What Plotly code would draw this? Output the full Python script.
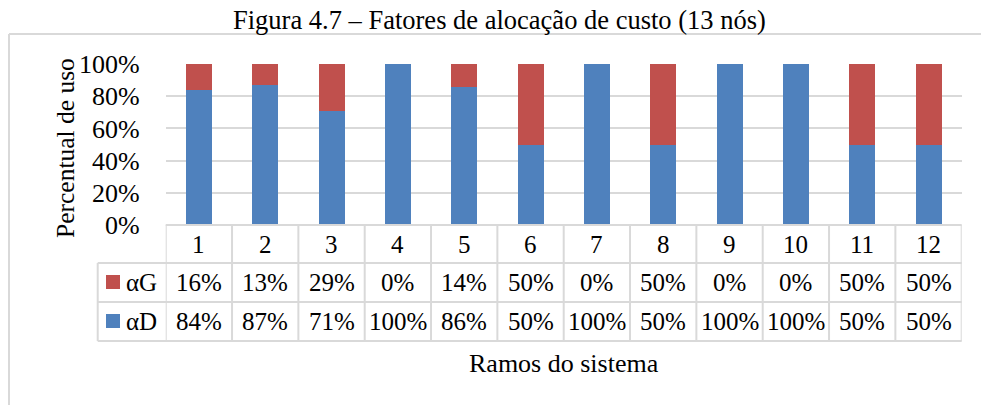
import plotly.graph_objects as go

# ---- data ----
categories = ["1", "2", "3", "4", "5", "6", "7", "8", "9", "10", "11", "12"]
alpha_D = [84, 87, 71, 100, 86, 50, 100, 50, 100, 100, 50, 50]
alpha_G = [16, 13, 29, 0, 14, 50, 0, 50, 0, 0, 50, 50]
series_names = ["αD", "αG"]
y_ticks = [0, 20, 40, 60, 80, 100]
y_tick_labels = ["0%", "20%", "40%", "60%", "80%", "100%"]
title_text = "Figura 4.7 – Fatores de alocação de custo (13 nós)"
y_title = "Percentual de uso"
x_title = "Ramos do sistema"

W, H = 981, 405
BLUE = "#4F81BD"
RED = "#C0504D"
GRID = "#D9D9D9"
FONT = "Liberation Serif"


def px(v):
    return v / W


def py(v):
    return 1 - v / H


plot_left, plot_right = 165.7, 961.7
plot_top, plot_bottom = 64, 225
row_lines = [225, 263, 302, 341]
legend_left = 97.7

fig = go.Figure()
fig.add_trace(go.Bar(x=categories, y=alpha_D, name=series_names[0],
                     marker=dict(color=BLUE, line=dict(width=0))))
fig.add_trace(go.Bar(x=categories, y=alpha_G, name=series_names[1],
                     marker=dict(color=RED, line=dict(width=0))))

shapes = []
# outer frame (top and left)
shapes.append(dict(type="line", xref="paper", yref="paper", x0=px(9), x1=1, y0=py(34), y1=py(34),
                   line=dict(color=GRID, width=2)))
shapes.append(dict(type="line", xref="paper", yref="paper", x0=px(9), x1=px(9), y0=py(34), y1=0,
                   line=dict(color=GRID, width=2)))
# table horizontal lines
for i, yy in enumerate(row_lines):
    x0 = plot_left if i == 0 else legend_left
    shapes.append(dict(type="line", xref="paper", yref="paper", x0=px(x0), x1=px(plot_right),
                       y0=py(yy), y1=py(yy), line=dict(color=GRID, width=2)))
# table vertical lines (category boundaries)
n = len(categories)
for k in range(n + 1):
    shapes.append(dict(type="line", xref="x", yref="paper", x0=k - 0.5, x1=k - 0.5,
                       y0=py(row_lines[0]), y1=py(row_lines[-1]), line=dict(color=GRID, width=2)))
shapes.append(dict(type="line", xref="paper", yref="paper", x0=px(legend_left), x1=px(legend_left),
                   y0=py(row_lines[1]), y1=py(row_lines[-1]), line=dict(color=GRID, width=2)))

annotations = []
tf = dict(family=FONT, size=25, color="black")
# header row: categories
for i, c in enumerate(categories):
    annotations.append(dict(xref="x", yref="paper", x=i, y=py((row_lines[0] + row_lines[1]) / 2),
                            text=c, showarrow=False, font=tf, xanchor="center", yanchor="middle"))
# rows: αG then αD
table_rows = [(series_names[1], alpha_G, RED, 1), (series_names[0], alpha_D, BLUE, 2)]
for name, vals, col, r in table_rows:
    yc = (row_lines[r] + row_lines[r + 1]) / 2
    for i, v in enumerate(vals):
        annotations.append(dict(xref="x", yref="paper", x=i, y=py(yc), text=f"{v}%",
                                showarrow=False, font=tf, xanchor="center", yanchor="middle"))
    shapes.append(dict(type="rect", xref="paper", yref="paper", x0=px(106), x1=px(120),
                       y0=py(yc - 7.5), y1=py(yc + 6.5), fillcolor=col, line=dict(width=0)))
    annotations.append(dict(xref="paper", yref="paper", x=px(124), y=py(yc), text=name,
                            showarrow=False, font=tf, xanchor="left", yanchor="middle"))

# titles
annotations.append(dict(xref="paper", yref="paper", x=px(500), y=py(20), text=title_text,
                        showarrow=False, font=dict(family=FONT, size=26.5, color="black"),
                        xanchor="center", yanchor="middle"))
annotations.append(dict(xref="paper", yref="paper", x=px(66), y=py(148), text=y_title, textangle=-90,
                        showarrow=False, font=dict(family=FONT, size=25.5, color="black"),
                        xanchor="center", yanchor="middle"))
annotations.append(dict(xref="paper", yref="paper", x=px(564), y=py(363), text=x_title,
                        showarrow=False, font=dict(family=FONT, size=26, color="black"),
                        xanchor="center", yanchor="middle"))

fig.update_layout(
    width=W, height=H,
    margin=dict(l=0, r=0, t=0, b=0, pad=0, autoexpand=False),
    paper_bgcolor="white", plot_bgcolor="white",
    barmode="stack", bargap=0.608,
    showlegend=False,
    shapes=shapes, annotations=annotations,
    xaxis=dict(domain=[px(plot_left), px(plot_right)], type="category", range=[-0.5, n - 0.5],
               showticklabels=False, showgrid=False, zeroline=False, showline=False,
               automargin=False, fixedrange=True),
    yaxis=dict(domain=[py(plot_bottom), py(plot_top)], range=[0, 100], tickvals=y_ticks,
               ticktext=y_tick_labels, showgrid=True, gridcolor=GRID, gridwidth=2, zeroline=False,
               showline=False, ticks="", ticklabelstandoff=25, automargin=False, fixedrange=True,
               tickfont=dict(family=FONT, size=26, color="black")),
)

fig.write_html("out.html", config={"displayModeBar": False},
               post_script="document.body.style.margin='0';document.body.style.overflow='hidden';")
